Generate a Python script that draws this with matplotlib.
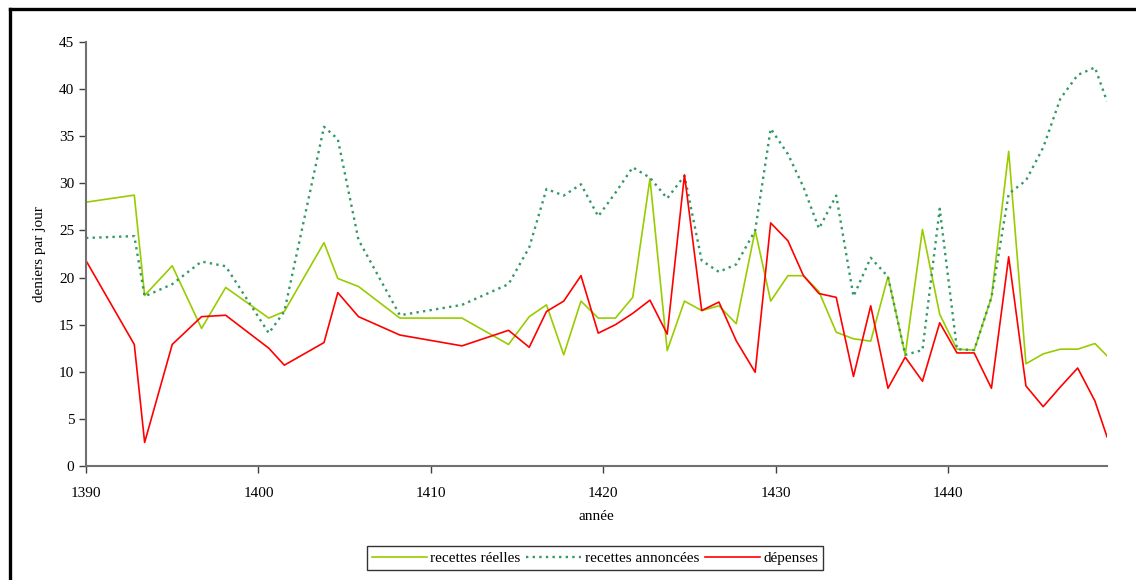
import matplotlib
matplotlib.use("Agg")
import matplotlib.pyplot as plt
from matplotlib.lines import Line2D

plt.rcParams['font.family'] = ['Liberation Serif', 'DejaVu Serif']

# années (points de mesure)
annees = [1390, 1392.8, 1393.4, 1395, 1396.7, 1398.1, 1400.6, 1401.5, 1403.8, 1404.6,
          1405.8, 1408.2, 1411.8, 1414.5, 1415.7, 1416.7, 1417.7, 1418.7, 1419.7, 1420.7,
          1421.7, 1422.7, 1423.7, 1424.7, 1425.7, 1426.7, 1427.7, 1428.8, 1429.7, 1430.7,
          1431.6, 1432.5, 1433.5, 1434.5, 1435.5, 1436.5, 1437.5, 1438.5, 1439.5, 1440.5,
          1441.5, 1442.5, 1443.5, 1444.5, 1445.5, 1446.5, 1447.5, 1448.5, 1449.2]

recettes_reelles = [28.0, 28.75, 18.1, 21.25, 14.6, 18.95, 15.7, 16.4, 23.7, 19.9,
                    19.05, 15.7, 15.7, 12.9, 15.85, 17.1, 11.8, 17.5, 15.7, 15.7,
                    17.9, 30.5, 12.25, 17.5, 16.5, 17.0, 15.1, 25.0, 17.5, 20.2,
                    20.2, 18.5, 14.2, 13.5, 13.25, 20.1, 11.8, 25.1, 16.1, 12.4,
                    12.3, 17.9, 33.4, 10.85, 11.9, 12.4, 12.4, 13.0, 11.7]

recettes_annoncees = [24.2, 24.4, 18.0, 19.3, 21.7, 21.2, 14.1, 16.4, 36.0, 34.7,
                      24.0, 16.0, 17.1, 19.3, 23.2, 29.4, 28.7, 29.9, 26.5, 29.0,
                      31.7, 30.6, 28.4, 30.8, 21.8, 20.6, 21.4, 25.0, 35.8, 33.1,
                      29.6, 25.2, 28.7, 18.0, 22.1, 20.1, 11.8, 12.3, 27.3, 12.4,
                      12.3, 17.9, 28.9, 30.3, 33.8, 39.0, 41.5, 42.3, 38.7]

depenses = [21.8, 12.9, 2.5, 12.9, 15.85, 16.0, 12.5, 10.7, 13.1, 18.4,
            15.85, 13.9, 12.75, 14.4, 12.6, 16.4, 17.5, 20.2, 14.1, 15.0,
            16.2, 17.6, 14.0, 30.9, 16.5, 17.4, 13.3, 9.95, 25.8, 23.9,
            20.2, 18.3, 17.9, 9.5, 17.0, 8.25, 11.55, 9.0, 15.2, 12.0,
            12.0, 8.25, 22.2, 8.5, 6.3, 8.4, 10.4, 6.9, 3.1]

fig = plt.figure(figsize=(11.36, 5.8), dpi=100)
ax = fig.add_axes([86/1136, 1 - 466/580, (1107 - 86)/1136, (466 - 42)/580])

ax.plot(annees, recettes_reelles, color='#99CC00', lw=1.2, label='recettes réelles')
ax.plot(annees, recettes_annoncees, color='#339966', lw=1.7,
        linestyle=(0, (1, 1.8)), label='recettes annoncées')
ax.plot(annees, depenses, color='#FF0000', lw=1.2, label='dépenses')

ax.set_xlim(1390, 1449.2)
ax.set_ylim(0, 45)
ax.set_xticks([1390, 1400, 1410, 1420, 1430, 1440])
ax.set_yticks(range(0, 46, 5))

for s in ['top', 'right']:
    ax.spines[s].set_visible(False)
for s in ['left', 'bottom']:
    ax.spines[s].set_color('#707070')
    ax.spines[s].set_linewidth(1.5)
ax.tick_params(axis='both', direction='out', length=5, width=1, color='#404040',
               labelsize=11, labelcolor='black')
ax.tick_params(axis='x', pad=10)

fig.text(40/1136, 1 - 254/580, 'deniers par jour', rotation=90,
         ha='center', va='center', fontsize=11)
fig.text(596/1136, 1 - 517/580, 'année', ha='center', va='center', fontsize=11)

leg = fig.legend(loc='center', bbox_to_anchor=(595/1136, 1 - 558/580), ncol=3,
                 fontsize=11, frameon=True, fancybox=False, handlelength=3.6,
                 columnspacing=0.4, handletextpad=0.2, borderpad=0.35)
leg.get_frame().set_edgecolor('black')
leg.get_frame().set_linewidth(1.0)

# cadre noir (gauche et haut)
fig.add_artist(Line2D([10/1136, 10/1136], [0, 1 - 9/580], transform=fig.transFigure,
                      color='black', lw=2.4))
fig.add_artist(Line2D([10/1136, 1], [1 - 9/580, 1 - 9/580], transform=fig.transFigure,
                      color='black', lw=2.4))

fig.savefig('out.png', dpi=100)
